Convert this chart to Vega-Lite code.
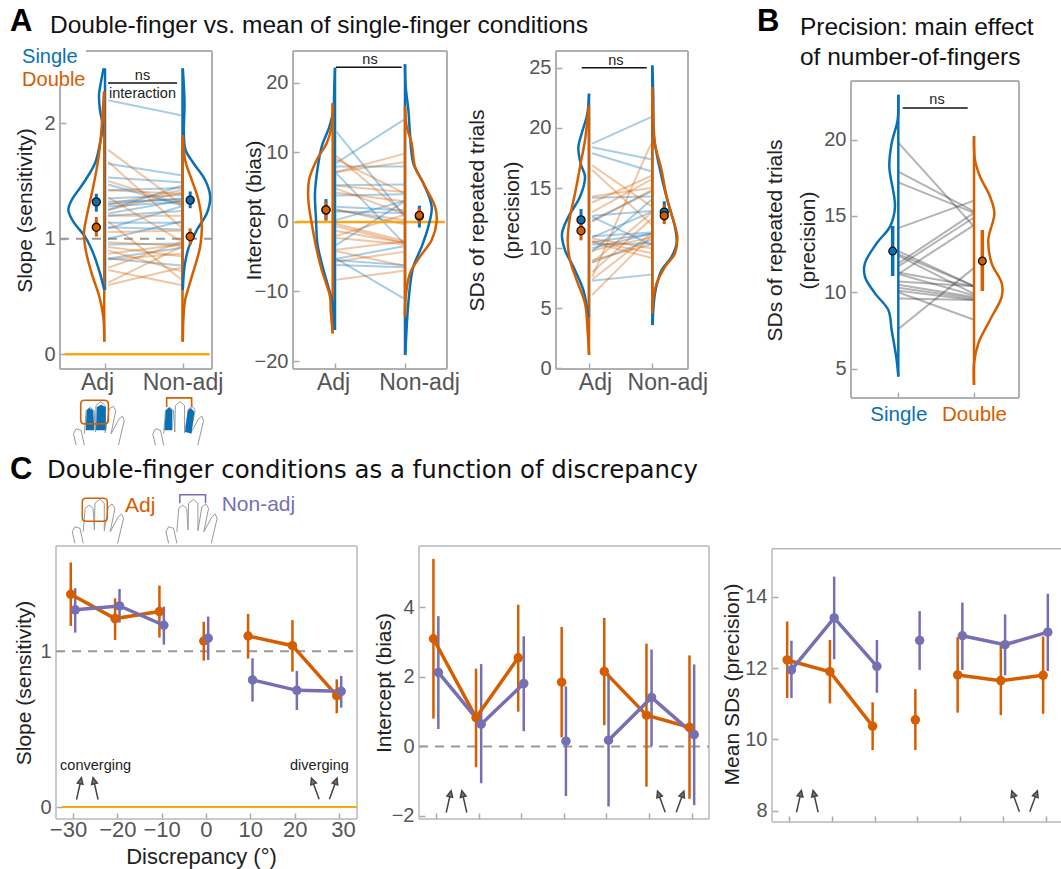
{"$schema":"https://vega.github.io/schema/vega-lite/v6.json","autosize":{"type":"none"},"padding":{"left":56,"top":51,"right":1005,"bottom":818},"background":"white","bounds":"flush","spacing":495,
"config":{"view":{"stroke":null},"font":"Liberation Sans","axis":{"grid":false,"domain":false,"tickColor":"#aaaaaa","tickWidth":1.5,"tickSize":-6,"labelColor":"#555555","labelFont":"Liberation Sans","labelFontSize":20,"titleFont":"Liberation Sans","titleFontSize":21,"titleFontWeight":"normal","titleColor":"#222222","labelPadding":11}},
"vconcat":[{"bounds":"flush","spacing":0,"hconcat":[
{"width":237,"height":318,
"encoding":{"x":{"field":"x","type":"quantitative","scale":{"domain":[0.3677,3.4258],"nice":false,"zero":false},"axis":{"values":[1,2],"labelExpr":"datum.value==1?'Adj':'Non-adj'","labelFontSize":23,"labelPadding":8.5,"labelOffset":{"condition":{"test":"datum.value==1","value":-8},"value":0},"title":null}},"y":{"field":"y","type":"quantitative","scale":{"domain":[-0.127,2.626],"nice":false,"zero":false},"axis":{"values":[0,1,2],"offset":-4,"title":"Slope (sensitivity)","titlePadding":8,"format":"d"}}},
"layer":[
{"mark":{"type":"rule","color":"#b0b0b0","strokeWidth":2},"data":{"values":[{"x":0.419,"y":-0.127,"x2":0.419,"y2":2.323},{"x":2.381,"y":-0.127,"x2":2.381,"y2":2.626},{"x":0.419,"y":-0.127,"x2":2.381,"y2":-0.127},{"x":0.755,"y":2.626,"x2":2.381,"y2":2.626}]},"encoding":{"x2":{"field":"x2"},"y2":{"field":"y2"}}},
{"mark":{"type":"rule","color":"#999999","strokeWidth":2,"strokeDash":[9,7]},"data":{"values":[{"x":0.419,"y":1,"x2":2.381,"y2":1}]},"encoding":{"x2":{"field":"x2"},"y2":{"field":"y2"}}},
{"mark":{"type":"rule","color":"#FFA514","strokeWidth":2.5},"data":{"values":[{"x":0.48,"y":0,"x2":2.35,"y2":0}]},"encoding":{"x2":{"field":"x2"},"y2":{"field":"y2"}}},
{"mark":{"type":"rule","strokeWidth":2,"opacity":0.35},"data":{"values":[
{"s":"Single","x":1.04,"x2":1.98,"y":2.2,"y2":2.07},{"s":"Single","x":1.04,"x2":1.98,"y":1.65,"y2":1.55},{"s":"Single","x":1.04,"x2":1.98,"y":1.53,"y2":1.49},{"s":"Single","x":1.04,"x2":1.98,"y":1.47,"y2":1.29},{"s":"Single","x":1.04,"x2":1.98,"y":1.42,"y2":1.44},{"s":"Single","x":1.04,"x2":1.98,"y":1.35,"y2":1.38},{"s":"Single","x":1.04,"x2":1.98,"y":1.32,"y2":1.34},{"s":"Single","x":1.04,"x2":1.98,"y":1.3,"y2":1.35},{"s":"Single","x":1.04,"x2":1.98,"y":1.28,"y2":1.32},{"s":"Single","x":1.04,"x2":1.98,"y":1.25,"y2":1.46},{"s":"Single","x":1.04,"x2":1.98,"y":1.22,"y2":1.33},{"s":"Single","x":1.04,"x2":1.98,"y":1.2,"y2":1.24},{"s":"Single","x":1.04,"x2":1.98,"y":1.14,"y2":1.14},{"s":"Single","x":1.04,"x2":1.98,"y":1.1,"y2":1.08},{"s":"Single","x":1.04,"x2":1.98,"y":1.09,"y2":1.28},{"s":"Single","x":1.04,"x2":1.98,"y":1.0,"y2":1.15},{"s":"Single","x":1.04,"x2":1.98,"y":0.95,"y2":0.96},{"s":"Single","x":1.04,"x2":1.98,"y":0.83,"y2":0.77},{"s":"Single","x":1.04,"x2":1.98,"y":0.83,"y2":0.92},
{"s":"Double","x":1.04,"x2":1.98,"y":1.77,"y2":1.3},{"s":"Double","x":1.04,"x2":1.98,"y":1.67,"y2":1.1},{"s":"Double","x":1.04,"x2":1.98,"y":1.5,"y2":1.3},{"s":"Double","x":1.04,"x2":1.98,"y":1.42,"y2":1.39},{"s":"Double","x":1.04,"x2":1.98,"y":1.36,"y2":0.98},{"s":"Double","x":1.04,"x2":1.98,"y":1.3,"y2":1.42},{"s":"Double","x":1.04,"x2":1.98,"y":1.25,"y2":1.4},{"s":"Double","x":1.04,"x2":1.98,"y":1.2,"y2":1.2},{"s":"Double","x":1.04,"x2":1.98,"y":1.15,"y2":0.65},{"s":"Double","x":1.04,"x2":1.98,"y":1.06,"y2":1.07},{"s":"Double","x":1.04,"x2":1.98,"y":0.97,"y2":0.94},{"s":"Double","x":1.04,"x2":1.98,"y":0.93,"y2":0.85},{"s":"Double","x":1.04,"x2":1.98,"y":0.9,"y2":0.72},{"s":"Double","x":1.04,"x2":1.98,"y":0.87,"y2":0.95},{"s":"Double","x":1.04,"x2":1.98,"y":0.82,"y2":0.87},{"s":"Double","x":1.04,"x2":1.98,"y":0.75,"y2":0.97},{"s":"Double","x":1.04,"x2":1.98,"y":0.73,"y2":0.6},{"s":"Double","x":1.04,"x2":1.98,"y":0.6,"y2":0.75},{"s":"Double","x":1.04,"x2":1.98,"y":0.62,"y2":0.93}]},"encoding":{"x2":{"field":"x2"},"y2":{"field":"y2"},"color":{"field":"s","type":"nominal","scale":{"domain":["Single","Double","Adj","Non-adj"],"range":["#0A70B4","#D55E00","#D55E00","#7570B3"]},"legend":null}}},
{"mark":{"type":"rule","strokeWidth":2.5},"data":{"values":[{"s":"Single","x":1,"y":2.476,"y2":0.557},{"s":"Double","x":0.99,"y":2.274,"y2":0.11},{"s":"Single","x":2,"y":2.476,"y2":0.557},{"s":"Double","x":2,"y":1.899,"y2":0.11}]},"encoding":{"y2":{"field":"y2"},"color":{"field":"s","type":"nominal","legend":null}}},
{"mark":{"type":"line","strokeWidth":2.5,"interpolate":"catmull-rom"},"data":{"values":[
{"g":"a","s":"Single","x":0.983,"y":2.476},{"g":"a","s":"Single","x":0.953,"y":2.375},{"g":"a","s":"Single","x":0.923,"y":2.245},{"g":"a","s":"Single","x":0.935,"y":2.115},{"g":"a","s":"Single","x":0.97,"y":1.971},{"g":"a","s":"Single","x":0.935,"y":1.827},{"g":"a","s":"Single","x":0.871,"y":1.654},{"g":"a","s":"Single","x":0.72,"y":1.481},{"g":"a","s":"Single","x":0.57,"y":1.336},{"g":"a","s":"Single","x":0.527,"y":1.25},{"g":"a","s":"Single","x":0.591,"y":1.149},{"g":"a","s":"Single","x":0.742,"y":1.019},{"g":"a","s":"Single","x":0.849,"y":0.874},{"g":"a","s":"Single","x":0.935,"y":0.701},{"g":"a","s":"Single","x":0.991,"y":0.557},
{"g":"b","s":"Double","x":0.987,"y":2.274},{"g":"b","s":"Double","x":0.957,"y":1.971},{"g":"b","s":"Double","x":0.918,"y":1.711},{"g":"b","s":"Double","x":0.849,"y":1.452},{"g":"b","s":"Double","x":0.772,"y":1.221},{"g":"b","s":"Double","x":0.729,"y":1.048},{"g":"b","s":"Double","x":0.755,"y":0.889},{"g":"b","s":"Double","x":0.828,"y":0.701},{"g":"b","s":"Double","x":0.927,"y":0.499},{"g":"b","s":"Double","x":0.978,"y":0.326},{"g":"b","s":"Double","x":0.991,"y":0.11},
{"g":"c","s":"Single","x":2.004,"y":2.476},{"g":"c","s":"Single","x":2.026,"y":2.173},{"g":"c","s":"Single","x":2.017,"y":1.913},{"g":"c","s":"Single","x":2.039,"y":1.769},{"g":"c","s":"Single","x":2.142,"y":1.654},{"g":"c","s":"Single","x":2.292,"y":1.509},{"g":"c","s":"Single","x":2.357,"y":1.365},{"g":"c","s":"Single","x":2.314,"y":1.221},{"g":"c","s":"Single","x":2.185,"y":1.076},{"g":"c","s":"Single","x":2.077,"y":0.918},{"g":"c","s":"Single","x":2.026,"y":0.759},{"g":"c","s":"Single","x":2.004,"y":0.557},
{"g":"d","s":"Double","x":2.004,"y":1.899},{"g":"d","s":"Double","x":2.034,"y":1.683},{"g":"d","s":"Double","x":2.12,"y":1.509},{"g":"d","s":"Double","x":2.206,"y":1.336},{"g":"d","s":"Double","x":2.249,"y":1.134},{"g":"d","s":"Double","x":2.228,"y":0.932},{"g":"d","s":"Double","x":2.12,"y":0.672},{"g":"d","s":"Double","x":2.034,"y":0.47},{"g":"d","s":"Double","x":2.013,"y":0.326},{"g":"d","s":"Double","x":2.004,"y":0.11}]},"encoding":{"detail":{"field":"g"},"order":{"field":"y","sort":"descending"},"color":{"field":"s","type":"nominal","legend":null}}},
{"mark":{"type":"rule","strokeWidth":3},"data":{"values":[{"s":"Single","x":0.888,"y":1.39,"y2":1.235},{"s":"Double","x":0.888,"y":1.19,"y2":1.02},{"s":"Single","x":2.099,"y":1.41,"y2":1.265},{"s":"Double","x":2.099,"y":1.09,"y2":0.947}]},"encoding":{"y2":{"field":"y2"},"color":{"field":"s","type":"nominal","legend":null}}},
{"mark":{"type":"circle","size":65,"stroke":"#111111","strokeWidth":1.3,"opacity":1},"data":{"values":[{"s":"Single","x":0.888,"y":1.32},{"s":"Double","x":0.888,"y":1.1},{"s":"Single","x":2.099,"y":1.335},{"s":"Double","x":2.099,"y":1.02}]},"encoding":{"fill":{"field":"s","type":"nominal","scale":{"domain":["Single","Double"],"range":["#0A70B4","#D55E00"]},"legend":null}}},
{"mark":{"type":"rule","color":"#111111","strokeWidth":1.5},"data":{"values":[{"x":1.039,"x2":1.929,"y":2.349,"y2":2.349}]},"encoding":{"x2":{"field":"x2"},"y2":{"field":"y2"}}},
{"mark":{"type":"text","fontSize":14.5,"color":"#222222"},"data":{"values":[{"x":1.484,"y":2.41,"t":"ns"},{"x":1.484,"y":2.254,"t":"interaction"}]},"encoding":{"text":{"field":"t"}}},
{"mark":{"type":"text","fontSize":20,"color":"#0A70B4","align":"left"},"data":{"values":[{"x":-0.07,"y":2.574,"t":"Single"}]},"encoding":{"text":{"field":"t"}}},
{"mark":{"type":"text","fontSize":20,"color":"#D55E00","align":"left"},"data":{"values":[{"x":-0.07,"y":2.375,"t":"Double"}]},"encoding":{"text":{"field":"t"}}},
{"mark":{"type":"text","fontSize":31,"fontWeight":"bold","color":"#000000","align":"left"},"data":{"values":[{"x":-0.226,"y":2.878,"t":"A"}]},"encoding":{"text":{"field":"t"}}},
{"mark":{"type":"text","fontSize":24.5,"color":"#111111","align":"left"},"data":{"values":[{"x":0.29,"y":2.84,"t":"Double-finger vs. mean of single-finger conditions"}]},"encoding":{"text":{"field":"t"}}},
{"mark":{"type":"point","shape":"M-0.84,0.81 L-0.94,0.38 L-0.84,0.19 L-0.65,0.25 L-0.53,0.81 M-0.53,0.38 L-0.46,-0.5 L-0.31,-0.62 L-0.16,-0.5 L-0.11,0.31 L-0.09,-0.69 L0.09,-0.84 L0.26,-0.69 L0.26,0.34 L0.41,-0.56 L0.56,-0.66 L0.66,-0.5 L0.48,0.38 L0.79,-0.19 L0.91,-0.29 L0.98,-0.12 L0.76,0.81","filled":false,"size":2800,"stroke":"#999999","strokeWidth":1,"opacity":1},"data":{"values":[{"x":0.914,"y":-0.601},{"x":1.938,"y":-0.601}]}},
{"mark":{"type":"point","shape":"M-0.48,0.25 L-0.44,-0.5 L-0.34,-0.6 L-0.19,-0.5 L-0.15,0.25 Z M-0.09,0.25 L-0.06,-0.63 L0.1,-0.72 L0.28,-0.63 L0.28,0.25 Z","filled":true,"size":2800,"fill":"#0A70B4","opacity":1},"data":{"values":[{"x":0.914,"y":-0.601}]}},
{"mark":{"type":"point","shape":"M-0.5,0.25 L-0.45,-0.5 L-0.32,-0.62 L-0.2,-0.5 L-0.2,0.25 Z M0.28,0.31 L0.38,-0.5 L0.5,-0.6 L0.63,-0.45 L0.52,0.37 Z","filled":true,"size":2800,"fill":"#0A70B4","opacity":1},"data":{"values":[{"x":1.938,"y":-0.601}]}},
{"mark":{"type":"point","shape":"M-0.7,-0.85 L0.7,-0.85 Q1,-0.85 1,-0.55 L1,0.55 Q1,0.85 0.7,0.85 L-0.7,0.85 Q-1,0.85 -1,0.55 L-1,-0.55 Q-1,-0.85 -0.7,-0.85 Z","filled":false,"size":767,"stroke":"#D55E00","strokeWidth":1.6,"opacity":1},"data":{"values":[{"x":0.865,"y":-0.5}]}},
{"mark":{"type":"point","shape":"M-1,0.36 L-1,-0.36 L1,-0.36 L1,0.36","filled":false,"size":625,"stroke":"#D55E00","strokeWidth":1.6,"opacity":1},"data":{"values":[{"x":1.957,"y":-0.416}]}}
]},
{"width":263,"height":318,
"encoding":{"x":{"field":"x","type":"quantitative","scale":{"domain":[0.4,4.157],"nice":false,"zero":false},"axis":{"values":[1,2],"labelExpr":"datum.value==1?'Adj':'Non-adj'","labelFontSize":23,"labelPadding":8.5,"labelOffset":{"condition":{"test":"datum.value==1","value":-2},"value":14},"title":null}},"y":{"field":"y","type":"quantitative","scale":{"domain":[-21.15,24.6],"nice":false,"zero":false},"axis":{"values":[-20,-10,0,10,20],"title":"Intercept (bias)","titlePadding":-10,"labelExpr":"replace(datum.label,'-','−')"}}},
"layer":[
{"mark":{"type":"rule","color":"#b0b0b0","strokeWidth":2},"data":{"values":[{"x":0.4,"y":-21.15,"x2":0.4,"y2":24.6},{"x":2.6,"y":-21.15,"x2":2.6,"y2":24.6},{"x":0.4,"y":-21.15,"x2":2.6,"y2":-21.15},{"x":0.4,"y":24.6,"x2":2.6,"y2":24.6}]},"encoding":{"x2":{"field":"x2"},"y2":{"field":"y2"}}},
{"mark":{"type":"rule","strokeWidth":2,"opacity":0.35},"data":{"values":[
{"s":"Single","x":1.02,"x2":1.98,"y":13,"y2":1},{"s":"Single","x":1.02,"x2":1.98,"y":8.5,"y2":14.7},{"s":"Single","x":1.02,"x2":1.98,"y":8,"y2":8},{"s":"Single","x":1.02,"x2":1.98,"y":7,"y2":-3},{"s":"Single","x":1.02,"x2":1.98,"y":5.3,"y2":5.4},{"s":"Single","x":1.02,"x2":1.98,"y":3.8,"y2":4},{"s":"Single","x":1.02,"x2":1.98,"y":2.2,"y2":1.7},{"s":"Single","x":1.02,"x2":1.98,"y":1.8,"y2":-0.3},{"s":"Single","x":1.02,"x2":1.98,"y":1.5,"y2":1.3},{"s":"Single","x":1.02,"x2":1.98,"y":0.3,"y2":3},{"s":"Single","x":1.02,"x2":1.98,"y":-3.3,"y2":2.9},{"s":"Single","x":1.02,"x2":1.98,"y":-5.3,"y2":-3.5},{"s":"Single","x":1.02,"x2":1.98,"y":-5.5,"y2":-6.2},{"s":"Single","x":1.02,"x2":1.98,"y":-6.2,"y2":-6.5},{"s":"Single","x":1.02,"x2":1.98,"y":-5.3,"y2":-11},
{"s":"Double","x":1.02,"x2":1.98,"y":9.5,"y2":1.3},{"s":"Double","x":1.02,"x2":1.98,"y":9,"y2":4.2},{"s":"Double","x":1.02,"x2":1.98,"y":7.2,"y2":9.8},{"s":"Double","x":1.02,"x2":1.98,"y":7.2,"y2":8.6},{"s":"Double","x":1.02,"x2":1.98,"y":5.2,"y2":4.3},{"s":"Double","x":1.02,"x2":1.98,"y":4.8,"y2":1.2},{"s":"Double","x":1.02,"x2":1.98,"y":4.2,"y2":3},{"s":"Double","x":1.02,"x2":1.98,"y":1.7,"y2":0.3},{"s":"Double","x":1.02,"x2":1.98,"y":-0.6,"y2":-3},{"s":"Double","x":1.02,"x2":1.98,"y":-1.3,"y2":-3},{"s":"Double","x":1.02,"x2":1.98,"y":-2,"y2":1},{"s":"Double","x":1.02,"x2":1.98,"y":-0.3,"y2":-2.7},{"s":"Double","x":1.02,"x2":1.98,"y":-4,"y2":-2.8},{"s":"Double","x":1.02,"x2":1.98,"y":-5.7,"y2":-4.3},{"s":"Double","x":1.02,"x2":1.98,"y":-8.3,"y2":-7},{"s":"Double","x":1.02,"x2":1.98,"y":-2.3,"y2":-3.2},{"s":"Double","x":1.02,"x2":1.98,"y":-4.2,"y2":-6.3}]},"encoding":{"x2":{"field":"x2"},"y2":{"field":"y2"},"color":{"field":"s","type":"nominal","scale":{"domain":["Single","Double","Adj","Non-adj"],"range":["#0A70B4","#D55E00","#D55E00","#7570B3"]},"legend":null}}},
{"mark":{"type":"rule","color":"#FFA514","strokeWidth":2.5},"data":{"values":[{"x":0.43,"y":0,"x2":2.57,"y2":0}]},"encoding":{"x2":{"field":"x2"},"y2":{"field":"y2"}}},
{"mark":{"type":"rule","strokeWidth":2.5},"data":{"values":[{"s":"Single","x":1,"y":22.2,"y2":-15.54},{"s":"Double","x":0.967,"y":17.07,"y2":-16.02},{"s":"Single","x":2,"y":22.69,"y2":-19.14},{"s":"Double","x":2,"y":16.6,"y2":-13.62}]},"encoding":{"y2":{"field":"y2"},"color":{"field":"s","type":"nominal","legend":null}}},
{"mark":{"type":"line","strokeWidth":2.5,"interpolate":"catmull-rom"},"data":{"values":[
{"g":"a","s":"Single","x":1,"y":22.2},{"g":"a","s":"Single","x":0.99,"y":19.47},{"g":"a","s":"Single","x":0.976,"y":16.1},{"g":"a","s":"Single","x":0.919,"y":13.7},{"g":"a","s":"Single","x":0.81,"y":10.84},{"g":"a","s":"Single","x":0.748,"y":7.48},{"g":"a","s":"Single","x":0.714,"y":4.12},{"g":"a","s":"Single","x":0.729,"y":0.29},{"g":"a","s":"Single","x":0.748,"y":-3.07},{"g":"a","s":"Single","x":0.81,"y":-5.95},{"g":"a","s":"Single","x":0.89,"y":-8.82},{"g":"a","s":"Single","x":0.967,"y":-11.7},{"g":"a","s":"Single","x":0.995,"y":-15.54},
{"g":"b","s":"Double","x":0.967,"y":17.07},{"g":"b","s":"Double","x":0.952,"y":13.72},{"g":"b","s":"Double","x":0.881,"y":11.32},{"g":"b","s":"Double","x":0.738,"y":8.92},{"g":"b","s":"Double","x":0.629,"y":6.04},{"g":"b","s":"Double","x":0.619,"y":3.17},{"g":"b","s":"Double","x":0.667,"y":-0.19},{"g":"b","s":"Double","x":0.729,"y":-3.55},{"g":"b","s":"Double","x":0.81,"y":-6.91},{"g":"b","s":"Double","x":0.929,"y":-10.74},{"g":"b","s":"Double","x":0.938,"y":-12.66},{"g":"b","s":"Double","x":0.967,"y":-16.02},
{"g":"c","s":"Single","x":2,"y":22.69},{"g":"c","s":"Single","x":2.01,"y":19.47},{"g":"c","s":"Single","x":2.048,"y":16.12},{"g":"c","s":"Single","x":2.071,"y":12.76},{"g":"c","s":"Single","x":2.119,"y":8.44},{"g":"c","s":"Single","x":2.262,"y":5.56},{"g":"c","s":"Single","x":2.381,"y":2.21},{"g":"c","s":"Single","x":2.333,"y":-0.67},{"g":"c","s":"Single","x":2.238,"y":-3.55},{"g":"c","s":"Single","x":2.119,"y":-6.43},{"g":"c","s":"Single","x":2.071,"y":-9.3},{"g":"c","s":"Single","x":2.033,"y":-13.62},{"g":"c","s":"Single","x":2.005,"y":-19.14},
{"g":"d","s":"Double","x":2,"y":16.6},{"g":"d","s":"Double","x":2.024,"y":13.72},{"g":"d","s":"Double","x":2.095,"y":11.32},{"g":"d","s":"Double","x":2.143,"y":7.96},{"g":"d","s":"Double","x":2.262,"y":5.56},{"g":"d","s":"Double","x":2.429,"y":2.21},{"g":"d","s":"Double","x":2.452,"y":0.05},{"g":"d","s":"Double","x":2.381,"y":-2.59},{"g":"d","s":"Double","x":2.214,"y":-4.99},{"g":"d","s":"Double","x":2.071,"y":-7.39},{"g":"d","s":"Double","x":2.01,"y":-10.74},{"g":"d","s":"Double","x":2,"y":-13.62}]},"encoding":{"detail":{"field":"g"},"order":{"field":"y","sort":"descending"},"color":{"field":"s","type":"nominal","legend":null}}},
{"mark":{"type":"rule","strokeWidth":3},"data":{"values":[{"s":"Single","x":0.871,"y":3.3,"y2":0.2},{"s":"Double","x":0.871,"y":2.9,"y2":0.3},{"s":"Single","x":2.205,"y":2.35,"y2":-0.8},{"s":"Double","x":2.205,"y":2.0,"y2":-0.2}]},"encoding":{"y2":{"field":"y2"},"color":{"field":"s","type":"nominal","legend":null}}},
{"mark":{"type":"circle","size":65,"stroke":"#111111","strokeWidth":1.3,"opacity":1},"data":{"values":[{"s":"Single","x":0.871,"y":1.73},{"s":"Double","x":0.871,"y":1.75},{"s":"Single","x":2.205,"y":0.85},{"s":"Double","x":2.205,"y":0.95}]},"encoding":{"fill":{"field":"s","type":"nominal","scale":{"domain":["Single","Double"],"range":["#0A70B4","#D55E00"]},"legend":null}}},
{"mark":{"type":"rule","color":"#111111","strokeWidth":1.5},"data":{"values":[{"x":1.014,"x2":1.953,"y":22.26,"y2":22.26}]},"encoding":{"x2":{"field":"x2"},"y2":{"field":"y2"}}},
{"mark":{"type":"text","fontSize":14.5,"color":"#222222"},"data":{"values":[{"x":1.5,"y":23.3,"t":"ns"}]},"encoding":{"text":{"field":"t"}}}
]},
{"width":295,"height":318,
"encoding":{"x":{"field":"x","type":"quantitative","scale":{"domain":[0.4787,5.139],"nice":false,"zero":false},"axis":{"values":[1,2],"labelExpr":"datum.value==1?'Adj':'Non-adj'","labelFontSize":23,"labelPadding":8.5,"labelOffset":{"condition":{"test":"datum.value==1","value":6},"value":15},"title":null}},"y":{"field":"y","type":"quantitative","scale":{"domain":[-0.05,26.4],"nice":false,"zero":false},"axis":{"values":[0,5,10,15,20,25],"title":["SDs of repeated trials","(precision)"],"titlePadding":6,"titleLineHeight":35}}},
"layer":[
{"mark":{"type":"rule","color":"#b0b0b0","strokeWidth":2},"data":{"values":[{"x":0.4787,"y":-0.05,"x2":0.4787,"y2":26.4},{"x":2.564,"y":-0.05,"x2":2.564,"y2":26.4},{"x":0.4787,"y":-0.05,"x2":2.564,"y2":-0.05},{"x":0.4787,"y":26.4,"x2":2.564,"y2":26.4}]},"encoding":{"x2":{"field":"x2"},"y2":{"field":"y2"}}},
{"mark":{"type":"rule","strokeWidth":2,"opacity":0.35},"data":{"values":[
{"s":"Single","x":1.05,"x2":1.98,"y":18.7,"y2":20.9},{"s":"Single","x":1.05,"x2":1.98,"y":18.4,"y2":17.4},{"s":"Single","x":1.05,"x2":1.98,"y":17.9,"y2":16.4},{"s":"Single","x":1.05,"x2":1.98,"y":14.2,"y2":14.3},{"s":"Single","x":1.05,"x2":1.98,"y":12.7,"y2":13.1},{"s":"Single","x":1.05,"x2":1.98,"y":12.6,"y2":10.3},{"s":"Single","x":1.05,"x2":1.98,"y":12.3,"y2":14.7},{"s":"Single","x":1.05,"x2":1.98,"y":11,"y2":11.3},{"s":"Single","x":1.05,"x2":1.98,"y":10.9,"y2":13},{"s":"Single","x":1.05,"x2":1.98,"y":10.5,"y2":11.2},{"s":"Single","x":1.05,"x2":1.98,"y":10.3,"y2":10.4},{"s":"Single","x":1.05,"x2":1.98,"y":10,"y2":11.2},{"s":"Single","x":1.05,"x2":1.98,"y":9.7,"y2":14},{"s":"Single","x":1.05,"x2":1.98,"y":7.3,"y2":7.8},{"s":"Single","x":1.05,"x2":1.98,"y":8.8,"y2":10.7},
{"s":"Double","x":1.05,"x2":1.98,"y":16.9,"y2":13.5},{"s":"Double","x":1.05,"x2":1.98,"y":16.5,"y2":12},{"s":"Double","x":1.05,"x2":1.98,"y":14.3,"y2":15},{"s":"Double","x":1.05,"x2":1.98,"y":13.8,"y2":16},{"s":"Double","x":1.05,"x2":1.98,"y":13,"y2":15.7},{"s":"Double","x":1.05,"x2":1.98,"y":12.2,"y2":14.8},{"s":"Double","x":1.05,"x2":1.98,"y":10.8,"y2":10},{"s":"Double","x":1.05,"x2":1.98,"y":10.5,"y2":9.2},{"s":"Double","x":1.05,"x2":1.98,"y":10.6,"y2":9.6},{"s":"Double","x":1.05,"x2":1.98,"y":9.8,"y2":10.9},{"s":"Double","x":1.05,"x2":1.98,"y":9,"y2":10.3},{"s":"Double","x":1.05,"x2":1.98,"y":8.8,"y2":12.9},{"s":"Double","x":1.05,"x2":1.98,"y":8,"y2":12.4},{"s":"Double","x":1.05,"x2":1.98,"y":7.6,"y2":18.7},{"s":"Double","x":1.05,"x2":1.98,"y":7.4,"y2":11.2},{"s":"Double","x":1.05,"x2":1.98,"y":6.1,"y2":11}]},"encoding":{"x2":{"field":"x2"},"y2":{"field":"y2"},"color":{"field":"s","type":"nominal","scale":{"domain":["Single","Double","Adj","Non-adj"],"range":["#0A70B4","#D55E00","#D55E00","#7570B3"]},"legend":null}}},
{"mark":{"type":"rule","strokeWidth":2.5},"data":{"values":[{"s":"Single","x":1,"y":22.85,"y2":4.29},{"s":"Double","x":1,"y":21.88,"y2":1.11},{"s":"Single","x":2,"y":25.2,"y2":3.6},{"s":"Double","x":2,"y":23.41,"y2":4.57}]},"encoding":{"y2":{"field":"y2"},"color":{"field":"s","type":"nominal","legend":null}}},
{"mark":{"type":"line","strokeWidth":2.5,"interpolate":"catmull-rom"},"data":{"values":[
{"g":"a","s":"Single","x":1,"y":22.85},{"g":"a","s":"Single","x":0.974,"y":21.19},{"g":"a","s":"Single","x":0.884,"y":19.53},{"g":"a","s":"Single","x":0.832,"y":18.42},{"g":"a","s":"Single","x":0.868,"y":17.04},{"g":"a","s":"Single","x":0.937,"y":15.93},{"g":"a","s":"Single","x":0.858,"y":14.27},{"g":"a","s":"Single","x":0.674,"y":12.6},{"g":"a","s":"Single","x":0.574,"y":11.22},{"g":"a","s":"Single","x":0.621,"y":9.83},{"g":"a","s":"Single","x":0.753,"y":8.45},{"g":"a","s":"Single","x":0.911,"y":6.51},{"g":"a","s":"Single","x":0.989,"y":4.29},
{"g":"b","s":"Double","x":1,"y":21.88},{"g":"b","s":"Double","x":0.974,"y":20.64},{"g":"b","s":"Double","x":0.937,"y":18.98},{"g":"b","s":"Double","x":0.858,"y":16.76},{"g":"b","s":"Double","x":0.779,"y":14.54},{"g":"b","s":"Double","x":0.7,"y":12.6},{"g":"b","s":"Double","x":0.663,"y":10.66},{"g":"b","s":"Double","x":0.7,"y":9},{"g":"b","s":"Double","x":0.805,"y":7.34},{"g":"b","s":"Double","x":0.937,"y":5.4},{"g":"b","s":"Double","x":0.974,"y":3.46},{"g":"b","s":"Double","x":1,"y":1.11},
{"g":"c","s":"Single","x":2,"y":25.2},{"g":"c","s":"Single","x":2.016,"y":22.58},{"g":"c","s":"Single","x":2.026,"y":19.25},{"g":"c","s":"Single","x":2.147,"y":15.93},{"g":"c","s":"Single","x":2.253,"y":13.71},{"g":"c","s":"Single","x":2.358,"y":11.77},{"g":"c","s":"Single","x":2.384,"y":10.39},{"g":"c","s":"Single","x":2.305,"y":9.28},{"g":"c","s":"Single","x":2.147,"y":8.17},{"g":"c","s":"Single","x":2.042,"y":6.23},{"g":"c","s":"Single","x":2.005,"y":3.6},
{"g":"d","s":"Double","x":2,"y":23.41},{"g":"d","s":"Double","x":2.016,"y":20.91},{"g":"d","s":"Double","x":2.042,"y":18.7},{"g":"d","s":"Double","x":2.147,"y":16.48},{"g":"d","s":"Double","x":2.226,"y":14.27},{"g":"d","s":"Double","x":2.332,"y":12.33},{"g":"d","s":"Double","x":2.395,"y":10.94},{"g":"d","s":"Double","x":2.358,"y":9.56},{"g":"d","s":"Double","x":2.2,"y":8.45},{"g":"d","s":"Double","x":2.068,"y":7.06},{"g":"d","s":"Double","x":2.016,"y":5.96},{"g":"d","s":"Double","x":2,"y":4.57}]},"encoding":{"detail":{"field":"g"},"order":{"field":"y","sort":"descending"},"color":{"field":"s","type":"nominal","legend":null}}},
{"mark":{"type":"rule","strokeWidth":3},"data":{"values":[{"s":"Single","x":0.874,"y":13.25,"y2":11.8},{"s":"Double","x":0.874,"y":12.3,"y2":10.65},{"s":"Single","x":2.189,"y":13.9,"y2":12.3},{"s":"Double","x":2.189,"y":13.6,"y2":12}]},"encoding":{"y2":{"field":"y2"},"color":{"field":"s","type":"nominal","legend":null}}},
{"mark":{"type":"circle","size":65,"stroke":"#111111","strokeWidth":1.3,"opacity":1},"data":{"values":[{"s":"Single","x":0.874,"y":12.35},{"s":"Double","x":0.874,"y":11.45},{"s":"Single","x":2.189,"y":13},{"s":"Double","x":2.189,"y":12.7}]},"encoding":{"fill":{"field":"s","type":"nominal","scale":{"domain":["Single","Double"],"range":["#0A70B4","#D55E00"]},"legend":null}}},
{"mark":{"type":"rule","color":"#111111","strokeWidth":1.5},"data":{"values":[{"x":0.885,"x2":1.912,"y":25,"y2":25}]},"encoding":{"x2":{"field":"x2"},"y2":{"field":"y2"}}},
{"mark":{"type":"text","fontSize":14.5,"color":"#222222"},"data":{"values":[{"x":1.426,"y":25.6,"t":"ns"}]},"encoding":{"text":{"field":"t"}}}
]},
{"width":210,"height":347,
"encoding":{"x":{"field":"x","type":"quantitative","scale":{"domain":[0.375,3.149],"nice":false,"zero":false},"axis":{"values":[1,2],"labelExpr":"datum.value==1?'Single':'Double'","labelFontSize":20.5,"labelPadding":12.7,"labelColor":{"condition":{"test":"datum.value==1","value":"#0A70B4"},"value":"#D55E00"},"title":null}},"y":{"field":"y","type":"quantitative","scale":{"domain":[3.08,25.8],"nice":false,"zero":false},"axis":{"values":[5,10,15,20],"title":["SDs of repeated trials","(precision)"],"titlePadding":5,"titleLineHeight":33,"titleY":189}}},
"layer":[
{"mark":{"type":"rule","color":"#b0b0b0","strokeWidth":2},"data":{"values":[{"x":0.375,"y":3.08,"x2":0.375,"y2":23.84},{"x":2.594,"y":3.08,"x2":2.594,"y2":23.84},{"x":0.375,"y":3.08,"x2":2.594,"y2":3.08},{"x":0.375,"y":23.84,"x2":2.594,"y2":23.84}]},"encoding":{"x2":{"field":"x2"},"y2":{"field":"y2"}}},
{"mark":{"type":"rule","color":"#444444","strokeWidth":2,"opacity":0.4},"data":{"values":[{"x":1,"x2":2,"y":19.8,"y2":14.3},{"x":1,"x2":2,"y":17.9,"y2":15.3},{"x":1,"x2":2,"y":17.2,"y2":15.2},{"x":1,"x2":2,"y":14.2,"y2":16},{"x":1,"x2":2,"y":12.7,"y2":10.4},{"x":1,"x2":2,"y":12.5,"y2":10.4},{"x":1,"x2":2,"y":12.4,"y2":9.9},{"x":1,"x2":2,"y":11.9,"y2":15.2},{"x":1,"x2":2,"y":11.7,"y2":14.9},{"x":1,"x2":2,"y":11.3,"y2":10.4},{"x":1,"x2":2,"y":11.2,"y2":9.8},{"x":1,"x2":2,"y":10.7,"y2":10.4},{"x":1,"x2":2,"y":10.5,"y2":9.7},{"x":1,"x2":2,"y":10.3,"y2":9.6},{"x":1,"x2":2,"y":10.1,"y2":9.5},{"x":1,"x2":2,"y":9.6,"y2":9.5},{"x":1,"x2":2,"y":10,"y2":8.2},{"x":1,"x2":2,"y":7.6,"y2":11.6},{"x":1,"x2":2,"y":11.2,"y2":14.4}]},"encoding":{"x2":{"field":"x2"},"y2":{"field":"y2"}}},
{"mark":{"type":"rule","strokeWidth":2.5},"data":{"values":[{"s":"Single","x":1,"y":22.93,"y2":4.48},{"s":"Double","x":2,"y":20.24,"y2":3.93}]},"encoding":{"y2":{"field":"y2"},"color":{"field":"s","type":"nominal","scale":{"domain":["Single","Double","Adj","Non-adj"],"range":["#0A70B4","#D55E00","#D55E00","#7570B3"]},"legend":null}}},
{"mark":{"type":"line","strokeWidth":2.5,"interpolate":"catmull-rom"},"data":{"values":[
{"g":"a","s":"Single","x":1,"y":22.93},{"g":"a","s":"Single","x":0.991,"y":21.29},{"g":"a","s":"Single","x":0.912,"y":19.76},{"g":"a","s":"Single","x":0.881,"y":18.23},{"g":"a","s":"Single","x":0.956,"y":15.61},{"g":"a","s":"Single","x":0.89,"y":14.3},{"g":"a","s":"Single","x":0.714,"y":13.21},{"g":"a","s":"Single","x":0.559,"y":11.9},{"g":"a","s":"Single","x":0.559,"y":11.03},{"g":"a","s":"Single","x":0.692,"y":9.93},{"g":"a","s":"Single","x":0.868,"y":8.84},{"g":"a","s":"Single","x":0.912,"y":7.53},{"g":"a","s":"Single","x":0.978,"y":5.57},{"g":"a","s":"Single","x":1,"y":4.48},
{"g":"b","s":"Double","x":2,"y":20.24},{"g":"b","s":"Double","x":2.013,"y":18.67},{"g":"b","s":"Double","x":2.079,"y":17.58},{"g":"b","s":"Double","x":2.211,"y":16.27},{"g":"b","s":"Double","x":2.269,"y":15.17},{"g":"b","s":"Double","x":2.189,"y":13.43},{"g":"b","s":"Double","x":2.233,"y":11.9},{"g":"b","s":"Double","x":2.366,"y":10.59},{"g":"b","s":"Double","x":2.366,"y":9.72},{"g":"b","s":"Double","x":2.211,"y":8.19},{"g":"b","s":"Double","x":2.057,"y":6.66},{"g":"b","s":"Double","x":2,"y":5.35},{"g":"b","s":"Double","x":2,"y":3.93}]},"encoding":{"detail":{"field":"g"},"order":{"field":"y","sort":"descending"},"color":{"field":"s","type":"nominal","legend":null}}},
{"mark":{"type":"rule","strokeWidth":3.5},"data":{"values":[{"s":"Single","x":0.925,"y":14.35,"y2":11.07},{"s":"Double","x":2.11,"y":14.08,"y2":10.09}]},"encoding":{"y2":{"field":"y2"},"color":{"field":"s","type":"nominal","legend":null}}},
{"mark":{"type":"circle","size":60,"stroke":"#111111","strokeWidth":1.2,"opacity":1},"data":{"values":[{"s":"Single","x":0.925,"y":12.7},{"s":"Double","x":2.11,"y":12.05}]},"encoding":{"fill":{"field":"s","type":"nominal","scale":{"domain":["Single","Double"],"range":["#0A70B4","#D55E00"]},"legend":null}}},
{"mark":{"type":"rule","color":"#111111","strokeWidth":1.5},"data":{"values":[{"x":1.058,"x2":1.917,"y":22.07,"y2":22.07}]},"encoding":{"x2":{"field":"x2"},"y2":{"field":"y2"}}},
{"mark":{"type":"text","fontSize":14.5,"color":"#222222"},"data":{"values":[{"x":1.511,"y":22.6,"t":"ns"}]},"encoding":{"text":{"field":"t"}}},
{"mark":{"type":"text","fontSize":31,"fontWeight":"bold","color":"#000000","align":"left"},"data":{"values":[{"x":-0.867,"y":27.7,"t":"B"}]},"encoding":{"text":{"field":"t"}}},
{"mark":{"type":"text","fontSize":24.5,"color":"#111111","align":"left"},"data":{"values":[{"x":-0.3,"y":27.31,"t":"Precision: main effect"},{"x":-0.3,"y":25.35,"t":"of number-of-fingers"}]},"encoding":{"text":{"field":"t"}}}
]}
]},{"bounds":"flush","spacing":0,"hconcat":[
{"width":363,"height":273,
"encoding":{"x":{"field":"x","type":"quantitative","scale":{"domain":[-33.83,48.05],"nice":false,"zero":false},"axis":{"values":[-30,-20,-10,0,10,20,30],"labelFontSize":22,"labelPadding":6.7,"labelOffset":{"condition":[{"test":"datum.value==-30","value":-5},{"test":"datum.value==30","value":4}],"value":0},"title":"Discrepancy (°)","titleFontSize":22,"titleX":145,"titleY":27}},"y":{"field":"y","type":"quantitative","scale":{"domain":[-0.077,1.676],"nice":false,"zero":false},"axis":{"values":[0,1],"format":"d","title":"Slope (sensitivity)","titlePadding":5}}},
"layer":[
{"mark":{"type":"rule","color":"#b8b8b8","strokeWidth":1.5},"data":{"values":[{"x":-33.83,"y":-0.077,"x2":-33.83,"y2":1.676},{"x":34.07,"y":-0.077,"x2":34.07,"y2":1.676},{"x":-33.83,"y":-0.077,"x2":34.07,"y2":-0.077},{"x":-33.83,"y":1.676,"x2":34.07,"y2":1.676}]},"encoding":{"x2":{"field":"x2"},"y2":{"field":"y2"}}},
{"mark":{"type":"rule","color":"#999999","strokeWidth":2,"strokeDash":[9,7]},"data":{"values":[{"x":-33.83,"y":1,"x2":34.07,"y2":1}]},"encoding":{"x2":{"field":"x2"},"y2":{"field":"y2"}}},
{"mark":{"type":"rule","color":"#FFA514","strokeWidth":2},"data":{"values":[{"x":-32.5,"y":0,"x2":34.07,"y2":0}]},"encoding":{"x2":{"field":"x2"},"y2":{"field":"y2"}}},
{"mark":{"type":"rule","strokeWidth":2.5},"data":{"values":[{"s":"Adj","x":-30.5,"y":1.57,"y2":1.163},{"s":"Adj","x":-20.5,"y":1.34,"y2":1.073},{"s":"Adj","x":-10.5,"y":1.422,"y2":1.088},{"s":"Adj","x":-0.5,"y":1.19,"y2":0.94},{"s":"Adj","x":9.5,"y":1.24,"y2":0.953},{"s":"Adj","x":19.5,"y":1.2,"y2":0.869},{"s":"Adj","x":29.5,"y":0.82,"y2":0.602},{"s":"Non-adj","x":-29.5,"y":1.405,"y2":1.12},{"s":"Non-adj","x":-19.5,"y":1.4,"y2":1.184},{"s":"Non-adj","x":-9.5,"y":1.287,"y2":1.043},{"s":"Non-adj","x":0.5,"y":1.223,"y2":0.944},{"s":"Non-adj","x":10.5,"y":0.955,"y2":0.677},{"s":"Non-adj","x":20.5,"y":0.874,"y2":0.623},{"s":"Non-adj","x":30.5,"y":0.842,"y2":0.638}]},"encoding":{"y2":{"field":"y2"},"color":{"field":"s","type":"nominal","scale":{"domain":["Single","Double","Adj","Non-adj"],"range":["#0A70B4","#D55E00","#D55E00","#7570B3"]},"legend":null}}},
{"mark":{"type":"line","strokeWidth":3.5},"data":{"values":[{"g":"a1","s":"Adj","x":-30.5,"y":1.366},{"g":"a1","s":"Adj","x":-20.5,"y":1.21},{"g":"a1","s":"Adj","x":-10.5,"y":1.255},{"g":"a2","s":"Adj","x":9.5,"y":1.098},{"g":"a2","s":"Adj","x":19.5,"y":1.036},{"g":"a2","s":"Adj","x":29.5,"y":0.715},{"g":"n1","s":"Non-adj","x":-29.5,"y":1.266},{"g":"n1","s":"Non-adj","x":-19.5,"y":1.291},{"g":"n1","s":"Non-adj","x":-9.5,"y":1.167},{"g":"n2","s":"Non-adj","x":10.5,"y":0.816},{"g":"n2","s":"Non-adj","x":20.5,"y":0.749},{"g":"n2","s":"Non-adj","x":30.5,"y":0.743}]},"encoding":{"detail":{"field":"g"},"color":{"field":"s","type":"nominal","legend":null}}},
{"mark":{"type":"circle","size":90,"opacity":1},"data":{"values":[{"s":"Adj","x":-30.5,"y":1.366},{"s":"Adj","x":-20.5,"y":1.21},{"s":"Adj","x":-10.5,"y":1.255},{"s":"Adj","x":-0.5,"y":1.066},{"s":"Adj","x":9.5,"y":1.098},{"s":"Adj","x":19.5,"y":1.036},{"s":"Adj","x":29.5,"y":0.715},{"s":"Non-adj","x":-29.5,"y":1.266},{"s":"Non-adj","x":-19.5,"y":1.291},{"s":"Non-adj","x":-9.5,"y":1.167},{"s":"Non-adj","x":0.5,"y":1.084},{"s":"Non-adj","x":10.5,"y":0.816},{"s":"Non-adj","x":20.5,"y":0.749},{"s":"Non-adj","x":30.5,"y":0.743}]},"encoding":{"color":{"field":"s","type":"nominal","legend":null}}},
{"mark":{"type":"point","shape":"M0,1 L0,-0.45 M-0.26,-0.45 L0,-1 L0.26,-0.45 Z","filled":true,"size":500,"fill":"#777777","stroke":"#444444","strokeWidth":1.5,"opacity":1},"data":{"values":[{"x":-28.65,"y":0.118,"a":12.6},{"x":-24.9,"y":0.118,"a":-13},{"x":24.66,"y":0.118,"a":-20},{"x":28.7,"y":0.118,"a":20}]},"encoding":{"angle":{"field":"a","type":"quantitative","scale":null}}},
{"mark":{"type":"text","fontSize":14.5,"color":"#222222"},"data":{"values":[{"x":-24.9,"y":0.263,"t":"converging"},{"x":25.6,"y":0.263,"t":"diverging"}]},"encoding":{"text":{"field":"t"}}},
{"mark":{"type":"text","fontSize":31,"fontWeight":"bold","color":"#000000","align":"left"},"data":{"values":[{"x":-44.2,"y":2.164,"t":"C"}]},"encoding":{"text":{"field":"t"}}},
{"mark":{"type":"text","fontSize":24.4,"font":"DejaVu Sans","color":"#111111","align":"left"},"data":{"values":[{"x":-35.87,"y":2.158,"t":"Double-finger conditions as a function of discrepancy"}]},"encoding":{"text":{"field":"t"}}},
{"mark":{"type":"text","fontSize":21,"color":"#D55E00","align":"left"},"data":{"values":[{"x":-18.27,"y":1.933,"t":"Adj"}]},"encoding":{"text":{"field":"t"}}},
{"mark":{"type":"text","fontSize":21,"color":"#7570B3","align":"left"},"data":{"values":[{"x":3.54,"y":1.94,"t":"Non-adj"}]},"encoding":{"text":{"field":"t"}}},
{"mark":{"type":"point","shape":"M-0.84,0.81 L-0.94,0.38 L-0.84,0.19 L-0.65,0.25 L-0.53,0.81 M-0.53,0.38 L-0.46,-0.5 L-0.31,-0.62 L-0.16,-0.5 L-0.11,0.31 L-0.09,-0.69 L0.09,-0.84 L0.26,-0.69 L0.26,0.34 L0.41,-0.56 L0.56,-0.66 L0.66,-0.5 L0.48,0.38 L0.79,-0.19 L0.91,-0.29 L0.98,-0.12 L0.76,0.81","filled":false,"size":2844,"stroke":"#999999","strokeWidth":1,"opacity":1},"data":{"values":[{"x":-24.5,"y":1.832},{"x":-3.38,"y":1.832}]}},
{"mark":{"type":"point","shape":"M-0.7,-0.92 L0.7,-0.92 Q1,-0.92 1,-0.62 L1,0.62 Q1,0.92 0.7,0.92 L-0.7,0.92 Q-1,0.92 -1,0.62 L-1,-0.62 Q-1,-0.92 -0.7,-0.92 Z","filled":false,"size":625,"stroke":"#D55E00","strokeWidth":1.5,"opacity":1},"data":{"values":[{"x":-25.08,"y":1.909}]}},
{"mark":{"type":"point","shape":"M-1,0.33 L-1,-0.33 L1,-0.33 L1,0.33","filled":false,"size":660,"stroke":"#7570B3","strokeWidth":1.5,"opacity":1},"data":{"values":[{"x":-3,"y":1.978}]}}
]},
{"width":353,"height":273,
"encoding":{"x":{"field":"x","type":"quantitative","scale":{"domain":[-33.99,48.87],"nice":false,"zero":false},"axis":{"values":[-30,-20,-10,0,10,20,30],"labels":false,"title":null}},"y":{"field":"y","type":"quantitative","scale":{"domain":[-2.09,5.77],"nice":false,"zero":false},"axis":{"values":[-2,0,2,4],"format":"d","labelExpr":"replace(datum.label,'-','−')","title":"Intercept (bias)","titlePadding":-3}}},
"layer":[
{"mark":{"type":"rule","color":"#b8b8b8","strokeWidth":1.5},"data":{"values":[{"x":-33.99,"y":-2.09,"x2":-33.99,"y2":5.77},{"x":34.08,"y":-2.09,"x2":34.08,"y2":5.77},{"x":-33.99,"y":-2.09,"x2":34.08,"y2":-2.09},{"x":-33.99,"y":5.77,"x2":34.08,"y2":5.77}]},"encoding":{"x2":{"field":"x2"},"y2":{"field":"y2"}}},
{"mark":{"type":"rule","color":"#999999","strokeWidth":2,"strokeDash":[9,7]},"data":{"values":[{"x":-33.99,"y":0,"x2":34.08,"y2":0}]},"encoding":{"x2":{"field":"x2"},"y2":{"field":"y2"}}},
{"mark":{"type":"rule","strokeWidth":2.5},"data":{"values":[{"s":"Adj","x":-30.6,"y":5.4,"y2":0.8},{"s":"Adj","x":-20.6,"y":2.24,"y2":-0.6},{"s":"Adj","x":-10.7,"y":4.08,"y2":1.0},{"s":"Adj","x":-0.5,"y":3.44,"y2":0.26},{"s":"Adj","x":9.5,"y":3.7,"y2":0.61},{"s":"Adj","x":19.4,"y":2.96,"y2":-1.16},{"s":"Adj","x":29.5,"y":2.62,"y2":-1.51},{"s":"Non-adj","x":-29.45,"y":3.75,"y2":0.5},{"s":"Non-adj","x":-19.4,"y":2.37,"y2":-1.06},{"s":"Non-adj","x":-9.4,"y":3.17,"y2":0.44},{"s":"Non-adj","x":0.5,"y":1.73,"y2":-1.43},{"s":"Non-adj","x":10.5,"y":2.1,"y2":-1.73},{"s":"Non-adj","x":20.6,"y":2.79,"y2":0.01},{"s":"Non-adj","x":30.6,"y":2.36,"y2":-1.69}]},"encoding":{"y2":{"field":"y2"},"color":{"field":"s","type":"nominal","scale":{"domain":["Single","Double","Adj","Non-adj"],"range":["#0A70B4","#D55E00","#D55E00","#7570B3"]},"legend":null}}},
{"mark":{"type":"line","strokeWidth":3.5},"data":{"values":[{"g":"a1","s":"Adj","x":-30.6,"y":3.1},{"g":"a1","s":"Adj","x":-20.6,"y":0.83},{"g":"a1","s":"Adj","x":-10.7,"y":2.55},{"g":"a2","s":"Adj","x":9.5,"y":2.16},{"g":"a2","s":"Adj","x":19.4,"y":0.9},{"g":"a2","s":"Adj","x":29.5,"y":0.55},{"g":"n1","s":"Non-adj","x":-29.45,"y":2.13},{"g":"n1","s":"Non-adj","x":-19.4,"y":0.64},{"g":"n1","s":"Non-adj","x":-9.4,"y":1.81},{"g":"n2","s":"Non-adj","x":10.5,"y":0.18},{"g":"n2","s":"Non-adj","x":20.6,"y":1.41},{"g":"n2","s":"Non-adj","x":30.6,"y":0.34}]},"encoding":{"detail":{"field":"g"},"color":{"field":"s","type":"nominal","legend":null}}},
{"mark":{"type":"circle","size":90,"opacity":1},"data":{"values":[{"s":"Adj","x":-30.6,"y":3.1},{"s":"Adj","x":-20.6,"y":0.83},{"s":"Adj","x":-10.7,"y":2.55},{"s":"Adj","x":-0.5,"y":1.85},{"s":"Adj","x":9.5,"y":2.16},{"s":"Adj","x":19.4,"y":0.9},{"s":"Adj","x":29.5,"y":0.55},{"s":"Non-adj","x":-29.45,"y":2.13},{"s":"Non-adj","x":-19.4,"y":0.64},{"s":"Non-adj","x":-9.4,"y":1.81},{"s":"Non-adj","x":0.5,"y":0.15},{"s":"Non-adj","x":10.5,"y":0.18},{"s":"Non-adj","x":20.6,"y":1.41},{"s":"Non-adj","x":30.6,"y":0.34}]},"encoding":{"color":{"field":"s","type":"nominal","legend":null}}},
{"mark":{"type":"point","shape":"M0,1 L0,-0.45 M-0.26,-0.45 L0,-1 L0.26,-0.45 Z","filled":true,"size":500,"fill":"#777777","stroke":"#444444","strokeWidth":1.5,"opacity":1},"data":{"values":[{"x":-27.03,"y":-1.59,"a":12.6},{"x":-23.35,"y":-1.59,"a":-13},{"x":22.9,"y":-1.59,"a":-20},{"x":27.28,"y":-1.59,"a":20}]},"encoding":{"angle":{"field":"a","type":"quantitative","scale":null}}}
]},
{"width":290,"height":276,
"encoding":{"x":{"field":"x","type":"quantitative","scale":{"domain":[-34.05,33.82],"nice":false,"zero":false},"axis":{"values":[-30,-20,-10,0,10,20,30],"labels":false,"title":null}},"y":{"field":"y","type":"quantitative","scale":{"domain":[7.68,15.43],"nice":false,"zero":false},"axis":{"values":[8,10,12,14],"title":"Mean SDs (precision)","titlePadding":2}}},
"layer":[
{"mark":{"type":"rule","color":"#b8b8b8","strokeWidth":1.5},"data":{"values":[{"x":-34.05,"y":7.68,"x2":-34.05,"y2":15.35},{"x":-34.05,"y":7.68,"x2":33.82,"y2":7.68},{"x":-34.05,"y":15.35,"x2":33.82,"y2":15.35}]},"encoding":{"x2":{"field":"x2"},"y2":{"field":"y2"}}},
{"mark":{"type":"rule","strokeWidth":2.5},"data":{"values":[{"s":"Adj","x":-30.5,"y":13.31,"y2":11.16},{"s":"Adj","x":-20.5,"y":12.79,"y2":11.01},{"s":"Adj","x":-10.5,"y":11.04,"y2":9.7},{"s":"Adj","x":-0.5,"y":11.41,"y2":9.7},{"s":"Adj","x":9.4,"y":12.87,"y2":10.75},{"s":"Adj","x":19.5,"y":12.65,"y2":10.68},{"s":"Adj","x":29.4,"y":12.89,"y2":10.72},{"s":"Non-adj","x":-29.5,"y":12.77,"y2":11.16},{"s":"Non-adj","x":-19.5,"y":14.57,"y2":12.25},{"s":"Non-adj","x":-9.5,"y":12.79,"y2":11.31},{"s":"Non-adj","x":0.5,"y":13.6,"y2":11.95},{"s":"Non-adj","x":10.5,"y":13.84,"y2":11.95},{"s":"Non-adj","x":20.5,"y":13.51,"y2":11.8},{"s":"Non-adj","x":30.5,"y":14.09,"y2":11.92}]},"encoding":{"y2":{"field":"y2"},"color":{"field":"s","type":"nominal","scale":{"domain":["Single","Double","Adj","Non-adj"],"range":["#0A70B4","#D55E00","#D55E00","#7570B3"]},"legend":null}}},
{"mark":{"type":"line","strokeWidth":3.5},"data":{"values":[{"g":"a1","s":"Adj","x":-30.5,"y":12.23},{"g":"a1","s":"Adj","x":-20.5,"y":11.9},{"g":"a1","s":"Adj","x":-10.5,"y":10.37},{"g":"a2","s":"Adj","x":9.4,"y":11.81},{"g":"a2","s":"Adj","x":19.5,"y":11.65},{"g":"a2","s":"Adj","x":29.4,"y":11.8},{"g":"n1","s":"Non-adj","x":-29.5,"y":11.95},{"g":"n1","s":"Non-adj","x":-19.5,"y":13.41},{"g":"n1","s":"Non-adj","x":-9.5,"y":12.05},{"g":"n2","s":"Non-adj","x":10.5,"y":12.91},{"g":"n2","s":"Non-adj","x":20.5,"y":12.66},{"g":"n2","s":"Non-adj","x":30.5,"y":13.01}]},"encoding":{"detail":{"field":"g"},"color":{"field":"s","type":"nominal","legend":null}}},
{"mark":{"type":"circle","size":90,"opacity":1},"data":{"values":[{"s":"Adj","x":-30.5,"y":12.23},{"s":"Adj","x":-20.5,"y":11.9},{"s":"Adj","x":-10.5,"y":10.37},{"s":"Adj","x":-0.5,"y":10.55},{"s":"Adj","x":9.4,"y":11.81},{"s":"Adj","x":19.5,"y":11.65},{"s":"Adj","x":29.4,"y":11.8},{"s":"Non-adj","x":-29.5,"y":11.95},{"s":"Non-adj","x":-19.5,"y":13.41},{"s":"Non-adj","x":-9.5,"y":12.05},{"s":"Non-adj","x":0.5,"y":12.78},{"s":"Non-adj","x":10.5,"y":12.91},{"s":"Non-adj","x":20.5,"y":12.66},{"s":"Non-adj","x":30.5,"y":13.01}]},"encoding":{"color":{"field":"s","type":"nominal","legend":null}}},
{"mark":{"type":"point","shape":"M0,1 L0,-0.45 M-0.26,-0.45 L0,-1 L0.26,-0.45 Z","filled":true,"size":500,"fill":"#777777","stroke":"#444444","strokeWidth":1.5,"opacity":1},"data":{"values":[{"x":-27.74,"y":8.26,"a":12.6},{"x":-23.84,"y":8.26,"a":-13},{"x":22.96,"y":8.26,"a":-20},{"x":27.18,"y":8.26,"a":20}]},"encoding":{"angle":{"field":"a","type":"quantitative","scale":null}}}
]}
]}]}
